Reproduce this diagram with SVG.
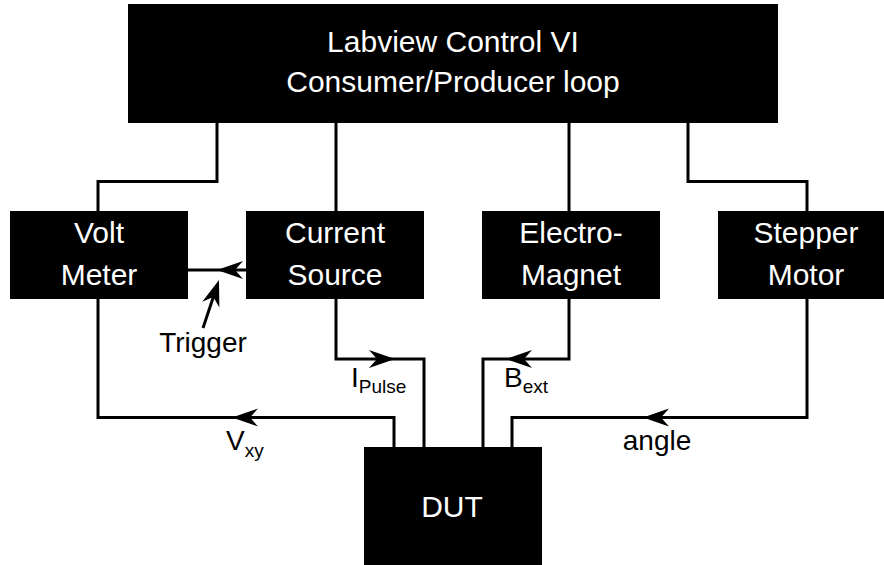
<svg xmlns="http://www.w3.org/2000/svg" width="884" height="565" viewBox="0 0 884 565">
<style>
.box{fill:#000}
.t{fill:#fff;font-family:"Liberation Sans",Arial,sans-serif;font-size:30px;text-anchor:middle}
.lbl{fill:#000;font-family:"Liberation Sans",Arial,sans-serif;font-size:28px}
.sub{font-size:19px}
.w{fill:none;stroke:#000;stroke-width:3}
</style>
<defs>
<path id="ah" d="M0,0 L26,-9 L18,0 L26,9 Z" fill="#000"/>
</defs>
<rect width="884" height="565" fill="#fff"/>
<g id="connectors">
<path class="w" d="M217,123 V181.5 H98 V211"/>
<path class="w" d="M336,123 V211"/>
<path class="w" d="M569,123 V211"/>
<path class="w" d="M688,123 V181.5 H807 V211"/>
<path class="w" d="M188,270 H246"/>
<use href="#ah" transform="translate(217,270)"/>
<path class="w" d="M203,328 L216,289"/>
<use href="#ah" transform="translate(219,280) rotate(108.4)"/>
<path class="w" d="M98,299 V417.5 H394 V447"/>
<use href="#ah" transform="translate(232,417.5)"/>
<path class="w" d="M336,299 V359 H424 V447"/>
<use href="#ah" transform="translate(395,359) rotate(180)"/>
<path class="w" d="M569,299 V359 H483 V447"/>
<use href="#ah" transform="translate(506,359)"/>
<path class="w" d="M807,299 V417.5 H512 V447"/>
<use href="#ah" transform="translate(643,417.5)"/>
<text class="lbl" x="203" y="352" text-anchor="middle">Trigger</text>
<text class="lbl" x="351" y="387">I<tspan class="sub" dy="6">Pulse</tspan></text>
<text class="lbl" x="504" y="387">B<tspan class="sub" dy="6">ext</tspan></text>
<text class="lbl" x="226" y="450">V<tspan class="sub" dy="7">xy</tspan></text>
<text class="lbl" x="657" y="450" text-anchor="middle">angle</text>
</g>
<g id="labview">
<rect class="box" x="128" y="4" width="650" height="119"/>
<text class="t" x="453" y="52">Labview Control VI</text>
<text class="t" x="453" y="92">Consumer/Producer loop</text>
</g>
<g id="voltmeter">
<rect class="box" x="10" y="211" width="178" height="88"/>
<text class="t" x="99" y="243">Volt</text>
<text class="t" x="99" y="285">Meter</text>
</g>
<g id="currentsource">
<rect class="box" x="246" y="211" width="178" height="88"/>
<text class="t" x="335" y="243">Current</text>
<text class="t" x="335" y="285">Source</text>
</g>
<g id="electromagnet">
<rect class="box" x="482" y="211" width="178" height="88"/>
<text class="t" x="571" y="243">Electro-</text>
<text class="t" x="571" y="285">Magnet</text>
</g>
<g id="steppermotor">
<rect class="box" x="718" y="211" width="178" height="88"/>
<text class="t" x="806" y="243">Stepper</text>
<text class="t" x="806" y="285">Motor</text>
</g>
<g id="dut">
<rect class="box" x="364" y="447" width="178" height="118"/>
<text class="t" x="452" y="517">DUT</text>
</g>
</svg>
